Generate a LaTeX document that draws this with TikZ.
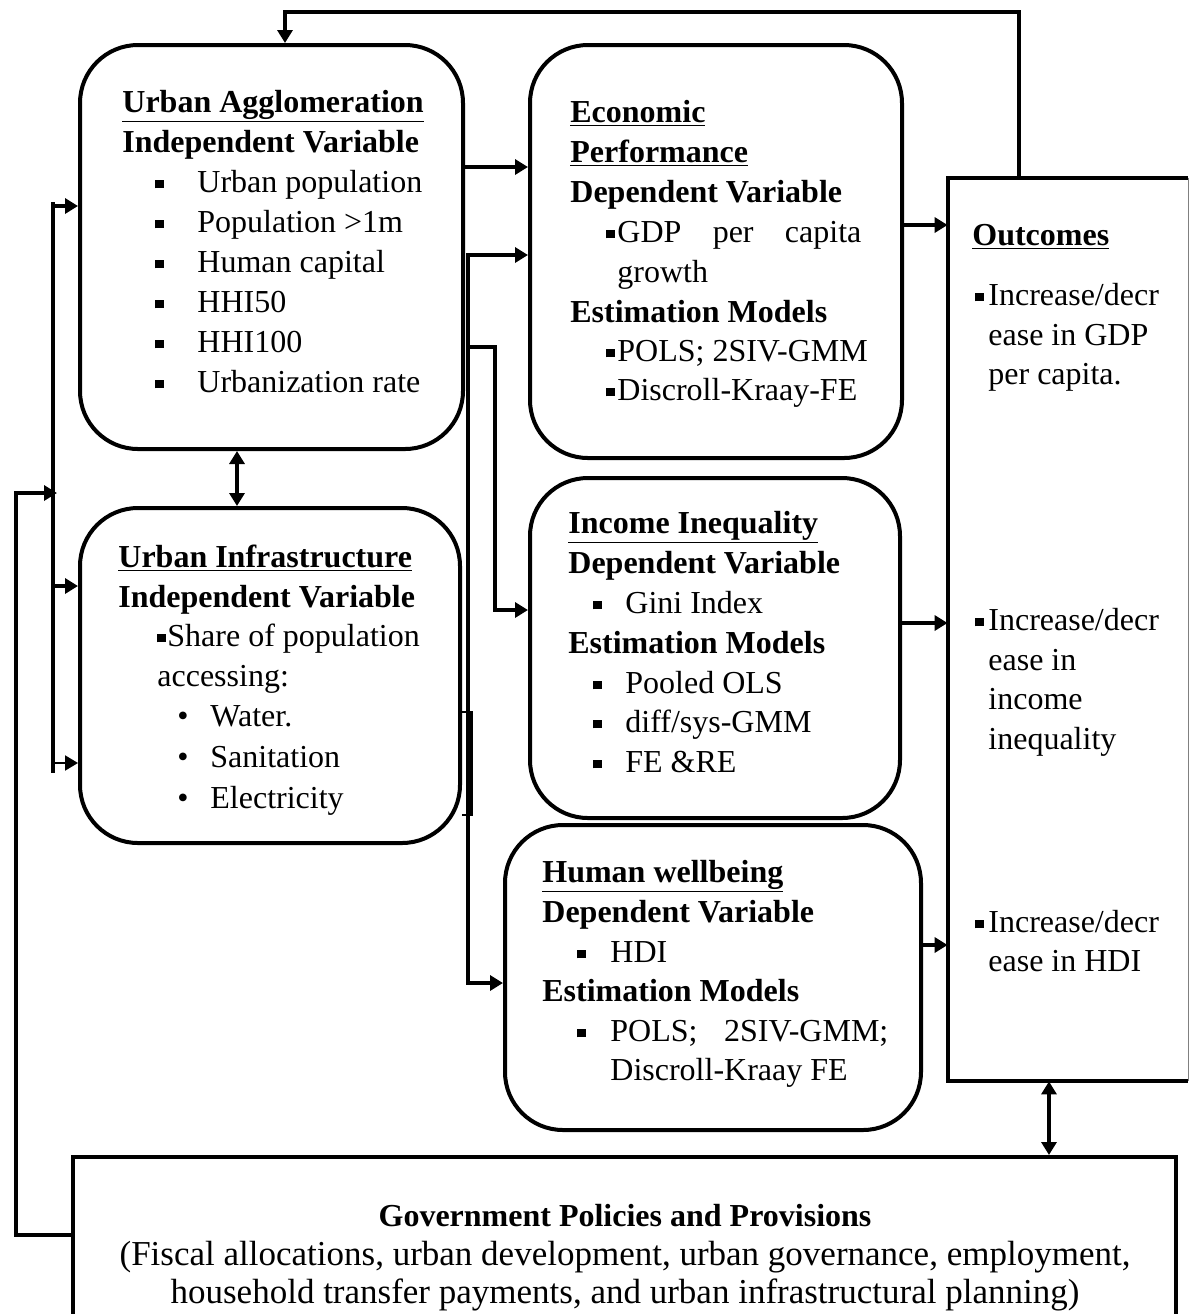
\documentclass[tikz,border=0pt]{standalone}
\usepackage{fontspec}
\setmainfont{Liberation Serif}
\usetikzlibrary{arrows.meta,fit}
\newcommand\sqb{\rule[1.8pt]{4.2pt}{4.2pt}}
\newcommand\tline[4]{\node[txt] (#1) at (#2,#3) {#4};}
\newcommand\bitem[5]{\node[txt] (#1b) at (#2,#4) {\sqb}; \node[txt] (#1) at (#3,#4) {#5};}
\newcommand\ditem[5]{\node[txt] (#1b) at (#2,#4) {•}; \node[txt] (#1) at (#3,#4) {#5};}
\begin{document}
\begin{tikzpicture}[x=0.5pt,y=-0.5pt,
  rbox/.style={draw, line width=2pt, rounded corners=29pt, inner sep=0pt},
  sbox/.style={draw, line width=2pt, inner sep=0pt},
  txt/.style={anchor=base west, inner sep=0pt, font=\fontsize{16}{20}\selectfont},
  ctxt/.style={anchor=base, inner sep=0pt, font=\fontsize{16}{20}\selectfont},
  gtxt/.style={anchor=base, inner sep=0pt, font=\fontsize{17.5}{21}\selectfont},
  conn/.style={line width=1.7pt, -{Triangle[length=6.5pt,width=7.5pt]}},
  tconn/.style={line width=1pt, -{Triangle[length=6.5pt,width=7.5pt]}},
  dconn/.style={line width=1.7pt, {Triangle[length=6.5pt,width=7.5pt]}-{Triangle[length=6.5pt,width=7.5pt]}},
  line/.style={line width=1.7pt}
]
\useasboundingbox (0,0) rectangle (1190,1314);
\clip (0,0) rectangle (1190,1314);

% boxes
\node[rbox, fit={(80,45) (463,449)}] (ua) {};
\node[rbox, fit={(80,508) (460,843)}] (ui) {};
\node[rbox, fit={(530,45) (902,458)}] (econ) {};
\node[rbox, fit={(530,478) (900,818)}] (inc) {};
\node[rbox, fit={(505,825) (921,1130)}] (hum) {};
\node[inner sep=0pt, fit={(948,178) (1188,1081)}] (out) {};
\draw[line width=2pt] (out.north east) -- (out.north west) -- (out.south west) -- (out.south east);
\draw[gray, line width=0.6pt] (out.north east) -- (out.south east);
\node[sbox, fit={(73,1157) (1176,1360)}] (gov) {};

% Urban Agglomeration
\tline{ua1}{122}{112}{\textbf{\underline{Urban Agglomeration}}}
\tline{ua2}{122}{152}{\textbf{Independent Variable}}
\bitem{ua3}{155}{197}{192}{Urban population}
\bitem{ua4}{155}{197}{232}{Population >1m}
\bitem{ua5}{155}{197}{272}{Human capital}
\bitem{ua6}{155}{197}{312}{HHI50}
\bitem{ua7}{155}{197}{352}{HHI100}
\bitem{ua8}{155}{197}{392}{Urbanization rate}

% Urban Infrastructure
\tline{ui1}{118}{567}{\textbf{\underline{Urban Infrastructure}}}
\tline{ui2}{118}{607}{\textbf{Independent Variable}}
\bitem{ui3}{157}{167}{646}{Share of population}
\tline{ui4}{157}{686}{accessing:}
\ditem{ui5}{177}{210}{726}{Water.}
\ditem{ui6}{177}{210}{767}{Sanitation}
\ditem{ui7}{177}{210}{808}{Electricity}

% Economic Performance
\tline{ec1}{570}{122}{\textbf{\underline{Economic}}}
\tline{ec2}{570}{162}{\textbf{\underline{Performance}}}
\tline{ec3}{570}{202}{\textbf{Dependent Variable}}
\bitem{ec4}{606}{617}{242}{\makebox[122pt][l]{GDP\hfill per\hfill capita}}
\tline{ec5}{617}{282}{growth}
\tline{ec6}{570}{322}{\textbf{Estimation Models}}
\bitem{ec7}{606}{617}{361}{POLS; 2SIV-GMM}
\bitem{ec8}{606}{617}{400}{Discroll-Kraay-FE}

% Income Inequality
\tline{in1}{568}{533}{\textbf{\underline{Income Inequality}}}
\tline{in2}{568}{573}{\textbf{Dependent Variable}}
\bitem{in3}{593}{625}{613}{Gini Index}
\tline{in4}{568}{653}{\textbf{Estimation Models}}
\bitem{in5}{593}{625}{693}{Pooled OLS}
\bitem{in6}{593}{625}{732}{diff/sys-GMM}
\bitem{in7}{593}{625}{772}{FE \&RE}

% Human wellbeing
\tline{hu1}{542}{882}{\textbf{\underline{Human wellbeing}}}
\tline{hu2}{542}{922}{\textbf{Dependent Variable}}
\bitem{hu3}{577}{610}{962}{HDI}
\tline{hu4}{542}{1001}{\textbf{Estimation Models}}
\bitem{hu5}{577}{610}{1041}{\makebox[139pt][l]{POLS;\hfill 2SIV-GMM;}}
\tline{hu6}{610}{1080}{Discroll-Kraay FE}

% Outcomes
\tline{ou1}{972}{245}{\textbf{\underline{Outcomes}}}
\bitem{ou2}{975}{988}{305}{Increase/decr}
\tline{ou3}{988}{345}{ease in GDP}
\tline{ou4}{988}{384}{per capita.}
\bitem{ou5}{975}{988}{630}{Increase/decr}
\tline{ou6}{988}{670}{ease in}
\tline{ou7}{988}{709}{income}
\tline{ou8}{988}{749}{inequality}
\bitem{ou9}{975}{988}{932}{Increase/decr}
\tline{ou10}{988}{971}{ease in HDI}

% Government
\node[ctxt] (go1) at (625,1226) {\textbf{Government Policies and Provisions}};
\node[gtxt] (go2) at (625,1265) {(Fiscal allocations, urban development, urban governance, employment,};
\node[gtxt] (go3) at (625,1303) {household transfer payments, and urban infrastructural planning)};

% connectors
\coordinate (bustop) at (53,202);
\coordinate (busbot) at (53,773);
\coordinate (busin) at (57,493);
\draw[line] (bustop) -- (busbot);
\draw[conn] (53,206) -- (53,206 -| ua.west);
\draw[conn] (53,586) -- (53,586 -| ui.west);
\draw[tconn] (53,763) -- (53,763 -| ui.west);
\draw[conn] (gov.west |- 0,1235) -- (16,1235) -- (16,493) -- (busin);

\draw[conn] (1019,0 |- out.north) -- (1019,12) -- (285,12) -- (285,0 |- ua.north);
\draw[dconn] (237,0 |- ua.south) -- (237,0 |- ui.north);

\draw[conn] (ua.east |- 0,167) -- (econ.west |- 0,167);
\draw[dconn] (econ.west |- 0,255) -- (468,255) -- (468,983) -- (hum.west |- 0,983);
\draw[conn] (468,347) -- (495,347) -- (495,610) -- (inc.west |- 0,610);
\draw[line width=1pt] (ui.east |- 0,712) -- (472,712) -- (472,815) -- (ui.east |- 0,815);
\draw[line width=3pt] (470,712) -- (470,815);

\draw[conn] (econ.east |- 0,225) -- (out.west |- 0,225);
\draw[conn] (inc.east |- 0,623) -- (out.west |- 0,623);
\draw[conn] (hum.east |- 0,945) -- (out.west |- 0,945);
\draw[dconn] (1049,0 |- out.south) -- (1049,0 |- gov.north);
\end{tikzpicture}
\end{document}
